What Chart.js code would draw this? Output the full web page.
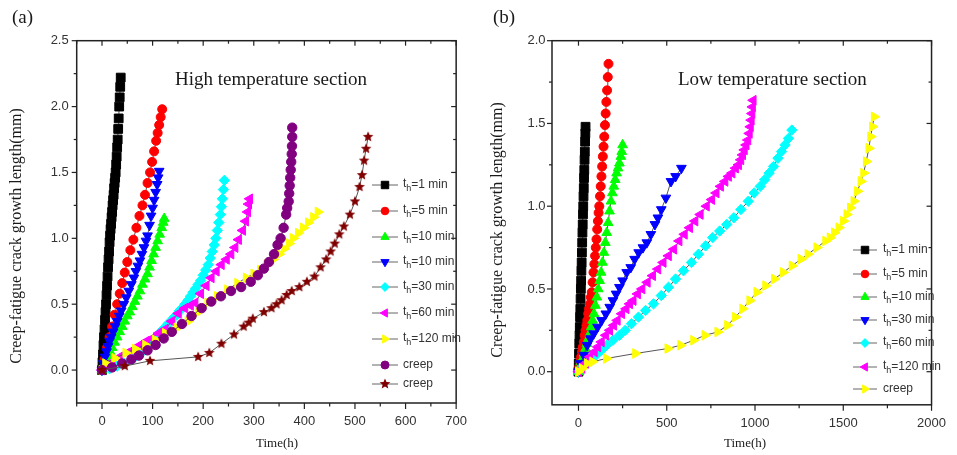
<!DOCTYPE html>
<html>
<head>
<meta charset="utf-8">
<script src="https://cdn.jsdelivr.net/npm/chart.js@4.4.1/dist/chart.umd.min.js"></script>
<style>
  html, body { margin: 0; padding: 0; background: #fff; }
  #wrap { position: relative; width: 957px; height: 455px; overflow: hidden; }
  canvas { position: absolute; top: 0; }
  #chartA { left: 0; }
  #chartB { left: 478px; }
</style>
</head>
<body>
<div id="wrap">
  <canvas id="chartA" width="478" height="455"></canvas>
  <canvas id="chartB" width="479" height="455"></canvas>
</div>
<script>
// (a) High temperature section: time (h) / crack length (mm)
const hi1minT = [0,1,2,3,4,5,6,7,8,9,10,11,12,13,14,15,16,17,18,19,20,21,22,23,24,25,26,27,28,29,30,31,32,33,34,35,36,37];
const hi1minL = [0,0.06,0.12,0.19,0.25,0.31,0.38,0.44,0.5,0.57,0.64,0.71,0.78,0.84,0.9,0.97,1.02,1.07,1.11,1.16,1.2,1.25,1.29,1.33,1.38,1.42,1.46,1.5,1.56,1.62,1.69,1.75,1.83,1.91,2.0,2.07,2.15,2.22];
const hi5minT = [0,5,10,15,20,25,30,35,40,45,50,56,62,68,74,80,85,90,95,99,103,107,110,113,116,119];
const hi5minL = [0,0.08,0.17,0.25,0.33,0.42,0.5,0.58,0.66,0.74,0.82,0.91,0.99,1.08,1.17,1.25,1.33,1.42,1.5,1.58,1.66,1.74,1.8,1.86,1.92,1.98];
const hi10minT = [0,4,8,12,16,20,25,30,35,40,45,50,55,60,65,70,75,80,85,90,94,98,102,106,110,114,118,121,123];
const hi10minL = [0,0.04,0.08,0.11,0.14,0.17,0.21,0.25,0.29,0.33,0.37,0.41,0.44,0.48,0.52,0.56,0.6,0.65,0.69,0.73,0.78,0.83,0.88,0.93,0.98,1.03,1.08,1.12,1.15];
const hi10minBT = [0,3,6,9,12,15,18,22,26,30,34,38,43,48,53,58,63,67,71,75,79,83,87,90,94,97,100,103,106,109,111,113];
const hi10minBL = [0,0.05,0.1,0.14,0.18,0.22,0.25,0.29,0.33,0.37,0.41,0.45,0.5,0.55,0.6,0.65,0.7,0.75,0.79,0.83,0.88,0.93,0.98,1.02,1.1,1.17,1.23,1.29,1.35,1.41,1.46,1.51];
const hi30minT = [0,15,30,45,60,75,90,98,105,112,118,124,130,136,142,148,153,158,164,170,175,180,185,190,195,200,205,210,214,218,222,225,228,231,234,236,238,240,242];
const hi30minL = [0,0.01,0.03,0.05,0.08,0.12,0.18,0.21,0.25,0.27,0.3,0.32,0.35,0.37,0.4,0.42,0.45,0.47,0.5,0.53,0.56,0.59,0.62,0.65,0.68,0.72,0.76,0.8,0.85,0.9,0.95,1.0,1.06,1.12,1.18,1.24,1.3,1.37,1.44];
const hi60minT = [0,10,20,35,50,60,75,88,99,112,125,138,151,164,175,184,195,206,216,226,236,246,255,263,270,278,284,288,290,292];
const hi60minL = [0,0.03,0.06,0.1,0.13,0.15,0.19,0.22,0.24,0.28,0.31,0.37,0.43,0.47,0.49,0.51,0.58,0.64,0.7,0.75,0.8,0.84,0.88,0.93,0.99,1.06,1.13,1.2,1.26,1.3];
const hi120minT = [0,7,25,47,66,86,105,125,148,170,190,209,228,248,268,285,300,313,326,338,350,360,370,378,388,398,408,418,427];
const hi120minL = [0,0.05,0.09,0.13,0.16,0.19,0.23,0.28,0.32,0.37,0.44,0.51,0.56,0.61,0.66,0.7,0.73,0.76,0.8,0.84,0.88,0.92,0.96,1.0,1.04,1.08,1.12,1.16,1.2];
const hiCreepT = [0,20,40,58,73,90,106,122,138,158,177,197,216,235,255,275,294,308,320,330,340,347,353,359,364,366,369,370,371,372,373,374,375,375.5,376,376];
const hiCreepL = [0,0.02,0.05,0.08,0.11,0.15,0.19,0.24,0.29,0.35,0.41,0.47,0.52,0.56,0.6,0.63,0.67,0.72,0.77,0.82,0.88,0.95,1.0,1.08,1.18,1.23,1.28,1.34,1.4,1.46,1.52,1.58,1.64,1.7,1.77,1.84];
const hiCreep2T = [0,45,95,190,212,236,261,280,290,298,320,335,345,355,365,375,390,405,420,432,443,452,460,469,478,490,500,509,514,518,522,526];
const hiCreep2L = [0,0.03,0.07,0.1,0.13,0.2,0.27,0.33,0.36,0.39,0.44,0.47,0.5,0.53,0.57,0.6,0.63,0.67,0.71,0.78,0.84,0.9,0.96,1.03,1.09,1.18,1.28,1.39,1.48,1.59,1.68,1.77];
const hiNames = ['t_h=1 min','t_h=5 min','t_h=10 min','t_h=10 min','t_h=30 min','t_h=60 min','t_h=120 min','creep','creep'];
const hiXTicks = [0,100,200,300,400,500,600,700];
const hiXMinor = [-50,50,150,250,350,450,550,650];
const hiYTicks = [0,0.5,1,1.5,2,2.5];
const hiYMinor = [0.25,0.75,1.25,1.75,2.25];

// (b) Low temperature section
const lo1minT = [0,1.5,3,4.5,6,7.5,9,10.5,12,13.5,15,16.5,18,19.5,21,22.5,24,25.5,27,28.5,30,31.5,33,34.5,36,37.5,39,40];
const lo1minL = [0,0.05,0.11,0.17,0.22,0.27,0.33,0.38,0.44,0.5,0.55,0.61,0.66,0.72,0.78,0.84,0.89,0.95,1.0,1.06,1.11,1.17,1.22,1.28,1.33,1.39,1.44,1.48];
const lo5minT = [0,5,10,15,20,25,30,35,40,45,50,55,60,65,70,75,80,85,90,94,98,102,106,110,114,118,122,126,130,134,138,142,146,150,154,158,162,166,170];
const lo5minL = [0,0.03,0.06,0.09,0.12,0.15,0.18,0.22,0.25,0.28,0.31,0.35,0.38,0.41,0.45,0.48,0.54,0.6,0.65,0.7,0.75,0.8,0.86,0.91,0.96,1.0,1.06,1.12,1.18,1.24,1.3,1.36,1.42,1.49,1.56,1.63,1.7,1.78,1.86];
const lo10minT = [0,8,16,24,32,40,48,56,64,72,80,88,96,104,112,120,128,136,144,152,160,168,176,184,192,200,208,216,224,232,240,245,250];
const lo10minL = [0,0.03,0.06,0.08,0.11,0.14,0.17,0.2,0.23,0.27,0.31,0.35,0.4,0.45,0.5,0.55,0.6,0.66,0.72,0.78,0.84,0.9,0.97,1.03,1.08,1.12,1.16,1.2,1.23,1.26,1.3,1.33,1.37];
const lo30minT = [0,12,30,49,68,86,108,131,155,177,195,213,232,250,273,296,318,341,365,387,410,433,450,469,495,524,550,583];
const lo30minL = [0,0.05,0.1,0.16,0.2,0.23,0.27,0.31,0.35,0.39,0.43,0.47,0.51,0.55,0.6,0.63,0.68,0.72,0.75,0.78,0.83,0.89,0.93,0.98,1.05,1.15,1.18,1.23];
const lo60minT = [0,25,50,75,100,130,160,195,232,265,300,340,380,425,469,510,550,595,640,680,720,760,800,840,880,920,962,995,1030,1055,1080,1105,1130,1150,1170,1190,1209];
const lo60minL = [0,0.03,0.05,0.08,0.1,0.13,0.16,0.19,0.22,0.25,0.29,0.33,0.37,0.41,0.46,0.51,0.56,0.61,0.66,0.71,0.76,0.81,0.85,0.89,0.93,0.98,1.03,1.08,1.12,1.16,1.2,1.24,1.29,1.33,1.37,1.41,1.46];
const lo120minT = [0,20,40,65,90,110,130,155,177,200,220,245,270,290,310,335,360,390,420,450,480,510,540,570,600,630,660,690,725,755,780,805,830,850,870,890,907,920,930,940,950,960,968,974,979,983,986,990];
const lo120minL = [0,0.02,0.05,0.09,0.12,0.15,0.18,0.22,0.25,0.28,0.31,0.35,0.38,0.41,0.43,0.47,0.5,0.54,0.58,0.62,0.66,0.7,0.74,0.79,0.83,0.87,0.91,0.95,1.0,1.04,1.08,1.12,1.15,1.18,1.2,1.23,1.25,1.28,1.31,1.34,1.37,1.4,1.44,1.48,1.52,1.56,1.6,1.64];
const loCreepT = [0,20,49,80,159,323,506,579,652,716,789,844,889,930,970,1010,1060,1110,1160,1210,1260,1300,1350,1400,1425,1450,1475,1500,1520,1540,1560,1580,1600,1615,1630,1645,1655,1665,1675];
const loCreepL = [0,0.02,0.05,0.06,0.08,0.11,0.14,0.16,0.19,0.22,0.24,0.28,0.33,0.38,0.43,0.48,0.52,0.56,0.6,0.64,0.68,0.71,0.75,0.79,0.81,0.84,0.87,0.91,0.95,0.99,1.03,1.09,1.15,1.2,1.27,1.35,1.42,1.48,1.54];
const loNames = ['t_h=1 min','t_h=5 min','t_h=10 min','t_h=30 min','t_h=60 min','t_h=120 min','creep'];
const loXTicks = [0,500,1000,1500,2000];
const loXMinor = [250,750,1250,1750];
const loYTicks = [0,0.5,1,1.5,2];
const loYMinor = [0.25,0.75,1.25,1.75];

// Origin-like symbol set
const SYM = {
  black:   { color: '#000000', shape: 'rect', r: 6.2 },
  red:     { color: '#ff0000', shape: 'circle', r: 4.5 },
  green:   { color: '#00ff00', shape: 'triangle', r: 5.6 },
  blue:    { color: '#0000ff', shape: 'triangle', r: 5.6, rot: 180 },
  cyan:    { color: '#00ffff', shape: 'rectRot', r: 5.2 },
  magenta: { color: '#ff00ff', shape: 'triangle', r: 5.6, rot: -90 },
  yellow:  { color: '#ffff00', shape: 'triangle', r: 5.6, rot: 90 },
  purple:  { color: '#800080', shape: 'circle', r: 4.7 },
  wine:    { color: '#800000', shape: 'star', r: 5.6 },
};

const SANS = "'Liberation Sans', Arial, sans-serif";
const TICK_FONT = { family: SANS, size: 13 };
const SERIF = "'Liberation Serif', 'Times New Roman', serif";

function starMarker(color, r) {
  const c = document.createElement('canvas');
  const s = Math.ceil(r * 2 + 2);
  c.width = c.height = s;
  const g = c.getContext('2d');
  g.fillStyle = color;
  g.beginPath();
  for (let i = 0; i < 10; i++) {
    const a = -Math.PI / 2 + i * Math.PI / 5;
    const rr = i % 2 ? r * 0.45 : r;
    g.lineTo(s / 2 + rr * Math.cos(a), s / 2 + rr * Math.sin(a));
  }
  g.closePath();
  g.fill();
  return c;
}

function styleOf(sym) {
  return {
    pointStyle: sym.shape === 'star' ? starMarker(sym.color, sym.r) : sym.shape,
    radius: sym.r,
    rotation: sym.rot || 0,
  };
}

function makeDatasets(list) {
  return list.map((s, i) => {
    const st = styleOf(s.sym);
    return {
      label: s.name,
      data: s.t.map((v, k) => ({ x: v, y: s.L[k] })),
      showLine: true,
      borderColor: '#555',
      borderWidth: 1,
      tension: 0,
      pointStyle: st.pointStyle,
      pointRadius: st.radius,
      pointRotation: st.rotation,
      pointBackgroundColor: s.sym.color,
      pointBorderColor: s.sym.color,
      pointBorderWidth: 1,
      order: -i,
      _style: st,
      _color: s.sym.color,
    };
  });
}

// frame + minor/inward ticks, positioned through the chart's scales
const frameTicks = {
  id: 'frameTicks',
  afterDatasetsDraw(chart, args, o) {
    const { ctx, chartArea: a } = chart;
    const x = chart.scales.x, y = chart.scales.y;
    ctx.save();
    ctx.strokeStyle = '#222';
    ctx.lineWidth = 1.5;
    ctx.strokeRect(a.left, a.top, a.right - a.left, a.bottom - a.top);
    ctx.lineWidth = 1.2;
    const seg = (x0, y0, dx, dy) => { ctx.beginPath(); ctx.moveTo(x0, y0); ctx.lineTo(x0 + dx, y0 + dy); ctx.stroke(); };
    o.xMajor.forEach(v => { const p = x.getPixelForValue(v); seg(p, a.bottom, 0, 6); seg(p, a.top, 0, 5); });
    o.xMinor.forEach(v => { const p = x.getPixelForValue(v); seg(p, a.bottom, 0, 3.5); seg(p, a.top, 0, 3); });
    o.yMajor.forEach(v => { const p = y.getPixelForValue(v); seg(a.left, p, -5, 0); seg(a.right, p, -5, 0); });
    o.yMinor.forEach(v => { const p = y.getPixelForValue(v); seg(a.left, p, -3, 0); seg(a.right, p, -3, 0); });
    ctx.restore();
  }
};

function drawSubLabel(ctx, text, x, y) {
  const m = text.match(/^(.*)_(.)(.*)$/);
  ctx.textAlign = 'left';
  ctx.textBaseline = 'middle';
  ctx.font = '12px ' + SANS;
  if (!m) { ctx.fillText(text, x, y); return; }
  ctx.fillText(m[1], x, y - 1);
  let w = ctx.measureText(m[1]).width;
  ctx.font = '9px ' + SANS;
  ctx.fillText(m[2], x + w, y + 4);
  w += ctx.measureText(m[2]).width;
  ctx.font = '12px ' + SANS;
  ctx.fillText(m[3], x + w, y);
}

const annotations = {
  id: 'annotations',
  afterDraw(chart, args, o) {
    const ctx = chart.ctx;
    ctx.save();
    ctx.fillStyle = '#1a1a1a';
    ctx.textAlign = 'left';
    ctx.textBaseline = 'alphabetic';
    ctx.font = '19px ' + SERIF;
    ctx.fillText(o.panel, o.panelX, 23);
    ctx.fillText(o.title, o.titleX, 85);
    ctx.font = '13px ' + SERIF;
    ctx.textAlign = 'center';
    ctx.textBaseline = 'middle';
    ctx.fillText('Time(h)', o.xTitleX, 444);
    ctx.save();
    ctx.translate(o.yTitleX, o.yTitleY);
    ctx.rotate(-Math.PI / 2);
    ctx.font = '16px ' + SERIF;
    ctx.fillText('Creep-fatigue crack growth length(mm)', 0, 0);
    ctx.restore();

    // legend
    const lg = o.legend;
    chart.data.datasets.forEach((ds, i) => {
      const yy = lg.rows[i];
      ctx.strokeStyle = '#666';
      ctx.lineWidth = 1;
      ctx.beginPath(); ctx.moveTo(lg.x1, yy); ctx.lineTo(lg.x2, yy); ctx.stroke();
      ctx.fillStyle = ds._color;
      ctx.strokeStyle = ds._color;
      if (Chart.helpers && Chart.helpers.drawPoint) {
        Chart.helpers.drawPoint(ctx, { pointStyle: ds._style.pointStyle, radius: ds._style.radius * 0.85, rotation: ds._style.rotation, borderWidth: 1 }, lg.mx, yy);
      } else {
        ctx.beginPath(); ctx.arc(lg.mx, yy, 4, 0, Math.PI * 2); ctx.fill();
      }
      ctx.fillStyle = '#333';
      drawSubLabel(ctx, ds.label, lg.tx, yy);
    });
    ctx.restore();
  }
};

function makeChart(id, p) {
  return new Chart(document.getElementById(id), {
    type: 'scatter',
    data: { datasets: makeDatasets(p.series) },
    options: {
      responsive: false,
      animation: false,
      layout: { padding: { left: 0, right: p.padRight, top: 40.7, bottom: 0 } },
      plugins: {
        legend: { display: false },
        tooltip: { enabled: false },
        frameTicks: { xMajor: p.xTicks, xMinor: p.xMinor, yMajor: p.yTicks, yMinor: p.yMinor },
        annotations: p.notes,
      },
      scales: {
        x: {
          type: 'linear', min: p.xMin, max: p.xMax,
          afterBuildTicks: s => { s.ticks = p.xTicks.map(v => ({ value: v })); },
          afterFit: s => { s.height = p.xAxisH; },
          grid: { display: false, drawTicks: false },
          border: { display: false },
          ticks: { color: '#333', font: TICK_FONT, padding: 11, maxRotation: 0, autoSkip: false, callback: v => String(v) },
        },
        y: {
          type: 'linear', min: p.yMin, max: p.yMax,
          afterBuildTicks: s => { s.ticks = p.yTicks.map(v => ({ value: v })); },
          afterFit: s => { s.width = p.yAxisW; },
          grid: { display: false, drawTicks: false },
          border: { display: false },
          ticks: { color: '#333', font: TICK_FONT, padding: p.yPad, autoSkip: false, callback: v => Number(v).toFixed(1) },
        },
      },
    },
    plugins: [frameTicks, annotations],
  });
}

makeChart('chartA', {
  series: [
    { name: hiNames[0], t: hi1minT, L: hi1minL, sym: SYM.black },
    { name: hiNames[1], t: hi5minT, L: hi5minL, sym: SYM.red },
    { name: hiNames[2], t: hi10minT, L: hi10minL, sym: SYM.green },
    { name: hiNames[3], t: hi10minBT, L: hi10minBL, sym: SYM.blue },
    { name: hiNames[4], t: hi30minT, L: hi30minL, sym: SYM.cyan },
    { name: hiNames[5], t: hi60minT, L: hi60minL, sym: SYM.magenta },
    { name: hiNames[6], t: hi120minT, L: hi120minL, sym: SYM.yellow },
    { name: hiNames[7], t: hiCreepT, L: hiCreepL, sym: SYM.purple },
    { name: hiNames[8], t: hiCreep2T, L: hiCreep2L, sym: SYM.wine },
  ],
  xMin: -50, xMax: 700, yMin: -0.25, yMax: 2.5,
  xTicks: hiXTicks, xMinor: hiXMinor, yTicks: hiYTicks, yMinor: hiYMinor,
  padRight: 17.3, yAxisW: 76.7, xAxisH: 52, yPad: 8,
  notes: {
    panel: '(a)', panelX: 12, title: 'High temperature section', titleX: 175,
    xTitleX: 277, yTitleX: 17, yTitleY: 236,
    legend: { x1: 372, x2: 398, mx: 385, tx: 403, rows: [185, 211, 237, 262, 287, 313, 339, 365, 384] },
  },
});

makeChart('chartB', {
  series: [
    { name: loNames[0], t: lo1minT, L: lo1minL, sym: SYM.black },
    { name: loNames[1], t: lo5minT, L: lo5minL, sym: SYM.red },
    { name: loNames[2], t: lo10minT, L: lo10minL, sym: SYM.green },
    { name: loNames[3], t: lo30minT, L: lo30minL, sym: SYM.blue },
    { name: loNames[4], t: lo60minT, L: lo60minL, sym: SYM.cyan },
    { name: loNames[5], t: lo120minT, L: lo120minL, sym: SYM.magenta },
    { name: loNames[6], t: loCreepT, L: loCreepL, sym: SYM.yellow },
  ],
  xMin: -150, xMax: 2000, yMin: -0.2, yMax: 2.0,
  xTicks: loXTicks, xMinor: loXMinor, yTicks: loYTicks, yMinor: loYMinor,
  padRight: 16.5, yAxisW: 74, xAxisH: 50.2, yPad: 6.5,
  notes: {
    panel: '(b)', panelX: 15, title: 'Low temperature section', titleX: 200,
    xTitleX: 267, yTitleX: 20, yTitleY: 230,
    legend: { x1: 375, x2: 399, mx: 387, tx: 405, rows: [250, 274, 297, 320, 343, 367, 389] },
  },
});
</script>
</body>
</html>
